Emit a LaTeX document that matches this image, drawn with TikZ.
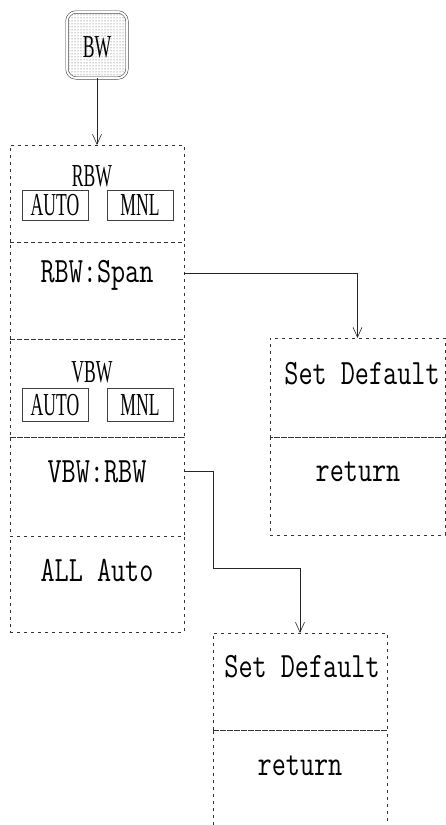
\documentclass[tikz,border=0pt]{standalone}
\usepackage{fontspec}
\usepackage{graphicx}
\usetikzlibrary{arrows.meta,patterns}
\newfontfamily\condf{Liberation Serif}
\newcommand{\mtext}[1]{\scalebox{1}[1.3]{\fontsize{27.4}{27.4}\ttfamily\selectfont #1}}
\newcommand{\ctext}[1]{\scalebox{0.55}[1]{\fontsize{32}{32}\condf\selectfont #1}}
\tikzset{
  sect/.style={draw=black!80, line width=0.6pt, dash pattern=on 3pt off 4pt, minimum width=174pt, inner sep=0pt, outer sep=0pt},
  sectopen/.style={inner sep=0pt, outer sep=0pt, minimum width=174pt},
  openedge/.style={draw=black!80, line width=0.6pt, dash pattern=on 3pt off 4pt},
  smallbox/.style={draw=black!75, line width=0.5pt, minimum width=66pt, inner sep=0pt, outer sep=0pt},
  lbl/.style={inner sep=0pt, outer sep=0pt},
  conn/.style={draw=black!85, line width=0.6pt},
  arr/.style={conn, -{Straight Barb[length=10pt,width=9pt,line width=0.6pt]}},
  key/.style={draw=black!80, line width=0.5pt, double, double distance=2pt, rounded corners=9pt,
    minimum width=60pt, minimum height=66pt, inner sep=0pt, outer sep=0pt,
    pattern=dots, pattern color=black!70}
}
\begin{document}
\begin{tikzpicture}[x=1pt, y=-1pt]
\useasboundingbox (0,0) rectangle (446,825);
% BW key
\node[key] (bw) at (97,45) {};
\node[lbl] (bwt) at (97,47) {\ctext{BW}};
% left column
\node[sect, minimum height=97pt] (s1) at (97,193.5) {};
\node[sect, minimum height=97pt] (s2) at (97,290.5) {};
\node[sect, minimum height=98pt] (s3) at (97,388) {};
\node[sect, minimum height=99pt] (s4) at (97,486.5) {};
\node[sect, minimum height=96pt] (s5) at (97,584) {};
\node[lbl] (t1) at (92,176) {\ctext{RBW}};
\node[smallbox, minimum height=30pt] (a1) at (55,205) {\ctext{AUTO}};
\node[smallbox, minimum height=30pt] (m1) at (140,205) {\ctext{MNL}};
\node[lbl] (t2) at (97,275) {\mtext{RBW:Span}};
\node[lbl] (t3) at (92,372) {\ctext{VBW}};
\node[smallbox, minimum height=33pt] (a3) at (55,405) {\ctext{AUTO}};
\node[smallbox, minimum height=33pt] (m3) at (140,405) {\ctext{MNL}};
\node[lbl] (t4) at (97,472) {\mtext{VBW:RBW}};
\node[lbl] (t5) at (97,570) {\mtext{ALL Auto}};
% right box 1
\node[sect, minimum width=175pt, minimum height=99pt] (d1) at (357.5,387.5) {};
\node[sect, minimum width=175pt, minimum height=98pt] (d1b) at (357.5,486) {};
\node[lbl] (d1t) at (362,374) {\mtext{Set Default}};
\node[lbl] (d1r) at (358,472) {\mtext{return}};
% right box 2
\node[sect, minimum height=97pt] (d2) at (300,681.5) {};
\node[sectopen, minimum height=95pt] (d2b) at (300,777.5) {};
\draw[openedge] (d2b.south west) -- (d2b.north west) -- (d2b.north east) -- (d2b.south east);
\node[lbl] (d2t) at (302,667) {\mtext{Set Default}};
\node[lbl] (d2r) at (300,766) {\mtext{return}};
% connectors
\coordinate (c2) at (213,568);
\draw[arr] (bw.south) -- (s1.north);
\draw[arr] (s2.east |- 0,273) -| (d1.north);
\draw[arr] (s4.east |- 0,471) -| (c2) -| (d2.north);
\end{tikzpicture}
\end{document}
